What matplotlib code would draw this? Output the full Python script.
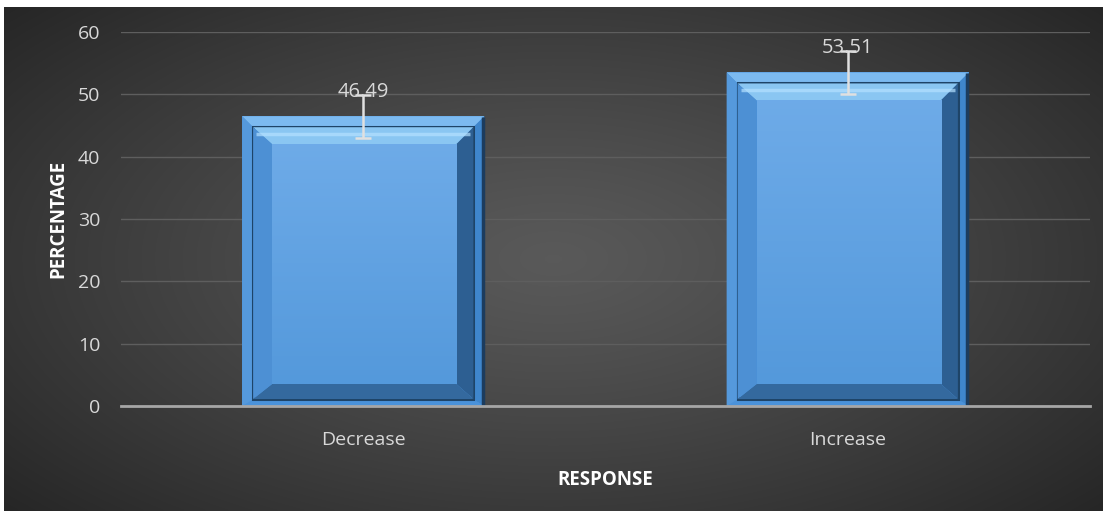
import numpy as np
import matplotlib
matplotlib.use('Agg')
import matplotlib.pyplot as plt
from matplotlib.patches import Polygon, Rectangle

categories = ['Decrease', 'Increase']
percent = [46.49, 53.51]
err = [3.45, 3.5]
yticks = [0, 10, 20, 30, 40, 50, 60]

plt.rcParams['font.family'] = ['Open Sans', 'DejaVu Sans']

W, H = 1103, 511
fig = plt.figure(figsize=(W / 100, H / 100), dpi=100)
fig.patch.set_facecolor('white')

# dark radial background
bg = fig.add_axes([4 / W, 0, 1 - 4 / W, 1 - 7 / H])
bg.set_axis_off()
gx, gy = np.meshgrid(np.linspace(-1, 1, 400), np.linspace(-1, 1, 200))
r = np.sqrt((gx / 1.0) ** 2 + (gy / 1.1) ** 2)
r = np.clip(r / 1.35, 0, 1)
shade = 0.35 - 0.2 * r ** 1.2
img = np.dstack([shade, shade, shade])
bg.imshow(img, extent=[0, 1, 0, 1], aspect='auto', interpolation='bilinear')
bg.set_xlim(0, 1)
bg.set_ylim(0, 1)

ax = fig.add_axes([121 / W, (H - 406) / H, (1090 - 121) / W, (406 - 32) / H])
ax.set_facecolor('none')
ax.set_xlim(-0.5, 1.5)
ax.set_ylim(0, 60)
x = np.arange(len(categories))

bars = ax.bar(x, percent, width=0.5, color='#4a92da', zorder=2)

# pixel -> data helpers
ppx = ax.get_position().width * W / 2.0
ppy = ax.get_position().height * H / 60.0


def poly(pts, c, z):
    ax.add_patch(Polygon(pts, closed=True, color=c, zorder=z, lw=0))


def bevel(b):
    x0 = b.get_x()
    x1 = x0 + b.get_width()
    y1 = b.get_height()
    y0 = 0
    o = 10
    # outer band
    poly([[x0, y1], [x1, y1], [x1 - o / ppx, y1 - o / ppy], [x0 + o / ppx, y1 - o / ppy]], '#7cbaf0', 3)
    poly([[x1, y1], [x1, y0], [x1 - o / ppx, y0 + 6 / ppy], [x1 - o / ppx, y1 - o / ppy]], '#3f86cc', 3)
    poly([[x0, y0], [x1, y0], [x1 - o / ppx, y0 + 6 / ppy], [x0 + o / ppx, y0 + 6 / ppy]], '#4a92da', 3)
    poly([[x0, y1], [x0, y0], [x0 + o / ppx, y0 + 6 / ppy], [x0 + o / ppx, y1 - o / ppy]], '#5599dc', 3)
    ax.plot([x1 - 1.5 / ppx, x1 - 1.5 / ppx], [y0, y1 - 1 / ppy], color='#1c3c5e', lw=2.5, zorder=3,
            solid_capstyle='butt')
    # groove
    gx0, gx1 = x0 + 11 / ppx, x1 - 11 / ppx
    gy0, gy1 = y0 + 7 / ppy, y1 - 11 / ppy
    ax.add_patch(Rectangle((gx0, gy0), gx1 - gx0, gy1 - gy0, fill=False, ec='#1e4468', lw=2.2, zorder=3))
    # inner bevel
    ix0, ix1 = x0 + 30 / ppx, x1 - 28 / ppx
    iy0, iy1 = y0 + 22 / ppy, y1 - 28 / ppy
    poly([[gx0, gy1], [gx1, gy1], [ix1, iy1], [ix0, iy1]], '#8ac6f2', 4)
    poly([[gx1, gy1], [gx1, gy0], [ix1, iy0], [ix1, iy1]], '#2d5f92', 4)
    poly([[gx0, gy0], [gx1, gy0], [ix1, iy0], [ix0, iy0]], '#34699e', 4)
    poly([[gx0, gy1], [gx0, gy0], [ix0, iy0], [ix0, iy1]], '#4d90d4', 4)
    # highlight line near top
    ax.plot([gx0 + 3 / ppx, gx1 - 3 / ppx], [gy1 - 7 / ppy, gy1 - 7 / ppy], color='#b4e0ff', lw=2.5, alpha=0.7,
            zorder=5, solid_capstyle='butt')
    # face with vertical gradient
    face = Rectangle((ix0, iy0), ix1 - ix0, iy1 - iy0, fc='none', ec='none', zorder=5)
    ax.add_patch(face)
    grad = np.linspace(0, 1, 100).reshape(-1, 1)
    c0 = np.array([0.33, 0.60, 0.86])
    c1 = np.array([0.43, 0.67, 0.91])
    gimg = c0 + (c1 - c0) * grad[:, :, None]
    im = ax.imshow(gimg, extent=[ix0, ix1, iy0, iy1], origin='lower', aspect='auto', zorder=5, interpolation='bilinear')
    im.set_clip_path(face)


for b in bars:
    bevel(b)

ax.set_xlim(-0.5, 1.5)
ax.set_ylim(0, 60)

ax.errorbar(x, percent, yerr=err, fmt='none', ecolor='#e0e0e0', elinewidth=1.8, capsize=6, capthick=1.8, zorder=7)

for xi, v in zip(x, percent):
    ax.text(xi, v + 3.9, f'{v:.2f}', ha='center', va='center', color='#d9d9d9', fontsize=14.5, zorder=8)

ax.set_yticks(yticks)
ax.set_xticks(x)
ax.set_xticklabels(categories)
ax.grid(axis='y', color='#5e5e5e', lw=1, zorder=0)
ax.set_axisbelow(True)
for s in ['top', 'right', 'left']:
    ax.spines[s].set_visible(False)
ax.spines['bottom'].set_color('#a6a6a6')
ax.spines['bottom'].set_linewidth(2)
ax.spines['bottom'].set_zorder(6)
ax.tick_params(axis='both', length=0, colors='#d9d9d9', labelsize=14)
ax.tick_params(axis='y', pad=15)
ax.tick_params(axis='x', pad=18)

ax.set_ylabel('PERCENTAGE', color='white', fontsize=13.5, fontweight='bold', labelpad=7)
ax.set_xlabel('RESPONSE', color='white', fontsize=13.5, fontweight='bold', labelpad=15)

fig.savefig('out.png', dpi=100)
